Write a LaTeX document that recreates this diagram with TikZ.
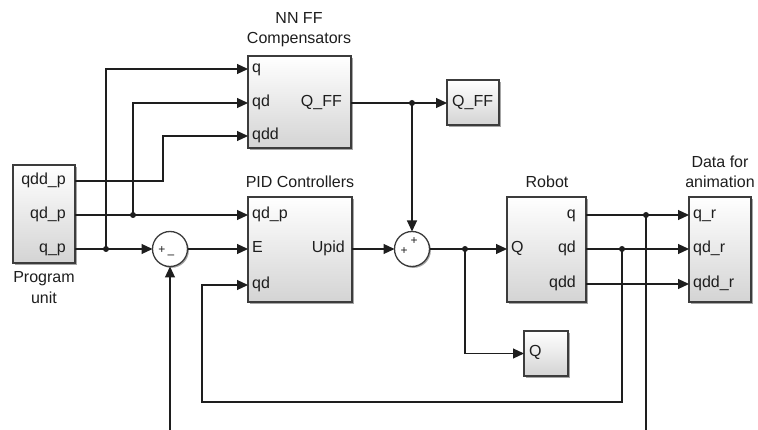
\documentclass[tikz,border=0pt]{standalone}
\usepackage{fontspec}
\setmainfont{Liberation Sans}
\usetikzlibrary{arrows.meta,shadows}
\definecolor{ln}{HTML}{1E1E1E}
\definecolor{bd}{HTML}{3C3C3C}
\begin{document}
\begin{tikzpicture}[x=1pt,y=-1pt,
  blk/.style={draw=bd, line width=1.3pt, top color=white, bottom color=black!17,
    drop shadow={shadow xshift=1.6pt, shadow yshift=-1.6pt, opacity=0.35, fill=black},
    inner sep=0pt, outer sep=0pt, anchor=north west},
  sumc/.style={circle, draw=bd, line width=1.3pt, fill=white, minimum size=35pt,
    inner sep=0pt, outer sep=0pt,
    drop shadow={shadow xshift=1.4pt, shadow yshift=-1.4pt, opacity=0.35, fill=black}},
  txt/.style={font=\fontsize{16}{18}\selectfont, text=ln, inner sep=0pt},
  port/.style={txt, text height=11pt, text depth=3pt},
  sgn/.style={font=\fontsize{12}{12}\selectfont, text=ln, inner sep=0pt},
  wire/.style={draw=ln, line width=1.1pt},
  arr/.style={-{Triangle[length=11pt,width=10pt]}},
  dot/.style={fill=ln}
]
\useasboundingbox (0,0) rectangle (758,430);
\fill[white] (0,0) rectangle (758,430);

% blocks
\node[blk, minimum width=62pt, minimum height=98pt] (pu) at (13,165) {};
\node[blk, minimum width=103pt, minimum height=92pt] (nn) at (248,56) {};
\node[blk, minimum width=52pt, minimum height=45pt] (qff) at (447,80) {};
\node[blk, minimum width=104pt, minimum height=105pt] (pid) at (248,197) {};
\node[blk, minimum width=79pt, minimum height=105pt] (rob) at (507,197) {};
\node[blk, minimum width=44pt, minimum height=45pt] (qb) at (524,331) {};
\node[blk, minimum width=62pt, minimum height=105pt] (dat) at (689,197) {};
\node[sumc] (s1) at (170,249) {};
\node[sumc] (s2) at (412,249) {};

% titles
\node[txt] (t1) at (299,18) {NN FF};
\node[txt] (t2) at (299,40) {Compensators};
\node[txt] (t3) at (300,182) {PID Controllers};
\node[txt] (t4) at (547,182) {Robot};
\node[txt] (t5) at (720,162) {Data for};
\node[txt] (t6) at (720,182) {animation};
\node[txt] (t7) at (44,279) {Program};
\node[txt] (t8) at (44,298) {unit};

% port labels
\node[port, anchor=east] (l1) at (66,181) {qdd\_p};
\node[port, anchor=east] (l2) at (66,215) {qd\_p};
\node[port, anchor=east] (l3) at (66,249) {q\_p};
\node[port, anchor=west] (l4) at (252,69) {q};
\node[port, anchor=west] (l5) at (252,103) {qd};
\node[port, anchor=west] (l6) at (252,136) {qdd};
\node[port, anchor=east] (l7) at (342,103) {Q\_FF};
\node[port, anchor=west] (l8) at (252,215) {qd\_p};
\node[port, anchor=west] (l9) at (252,249) {E};
\node[port, anchor=west] (l10) at (252,285) {qd};
\node[port, anchor=east] (l11) at (345,249) {Upid};
\node[port, anchor=west] (l12) at (511,249) {Q};
\node[port, anchor=east] (l13) at (576,215) {q};
\node[port, anchor=east] (l14) at (576,249) {qd};
\node[port, anchor=east] (l15) at (576,284) {qdd};
\node[port, anchor=west] (l16) at (693,215) {q\_r};
\node[port, anchor=west] (l17) at (693,249) {qd\_r};
\node[port, anchor=west] (l18) at (693,284) {qdd\_r};
\node[port, anchor=west] (l19) at (452,103) {Q\_FF};
\node[port, anchor=west] (l20) at (529,353) {Q};

% signs
\node[sgn] (g1) at (162,250) {+};
\node[sgn] (g2) at (171,257) {–};
\node[sgn] (g3) at (404,251) {+};
\node[sgn] (g4) at (414,241) {+};

% coordinates
\coordinate (puqdd) at (75,181);
\coordinate (puqd) at (75,215);
\coordinate (puq) at (75,249);
\coordinate (nnq) at (248,69);
\coordinate (nnqd) at (248,103);
\coordinate (nnqdd) at (248,136);
\coordinate (nnout) at (351,103);
\coordinate (pidqdp) at (248,215);
\coordinate (pidE) at (248,249);
\coordinate (pidqd) at (248,285);
\coordinate (pidout) at (352,249);
\coordinate (robQ) at (507,249);
\coordinate (robq) at (586,215);
\coordinate (robqd) at (586,249);
\coordinate (robqdd) at (586,284);
\coordinate (datq) at (689,215);
\coordinate (datqd) at (689,249);
\coordinate (datqdd) at (689,284);
\coordinate (j1) at (106,249);
\coordinate (j2) at (133,215);
\coordinate (j3) at (412,103);
\coordinate (j4) at (465,249);
\coordinate (j5) at (646,215);
\coordinate (j6) at (622,249);
\coordinate (b1) at (163,181);
\coordinate (fb1) at (622,402);
\coordinate (fb2) at (202,402);
\coordinate (e1) at (170,430);
\coordinate (e2) at (646,430);

% connectors
\draw[wire,arr] (puqdd) -- (b1) |- (nnqdd);
\draw[wire,arr] (puqd) -- (pidqdp);
\draw[wire,arr] (j2) |- (nnqd);
\draw[wire,arr] (puq) -- (s1);
\draw[wire,arr] (j1) |- (nnq);
\draw[wire,arr] (s1) -- (pidE);
\draw[wire,arr] (e1) -- (s1);
\draw[wire,arr] (pidout) -- (s2);
\draw[wire,arr] (nnout) -- (qff.west |- j3);
\draw[wire,arr] (j3) -- (s2);
\draw[wire,arr] (s2) -- (robQ);
\draw[wire,arr] (j4) |- (qb.west);
\draw[wire,arr] (robq) -- (datq);
\draw[wire] (j5) -- (e2);
\draw[wire,arr] (robqd) -- (datqd);
\draw[wire,arr] (j6) -- (fb1) -- (fb2) |- (pidqd);
\draw[wire,arr] (robqdd) -- (datqdd);

\foreach \j in {j1,j2,j3,j4,j5,j6} \fill[dot] (\j) circle (3);
\end{tikzpicture}
\end{document}
